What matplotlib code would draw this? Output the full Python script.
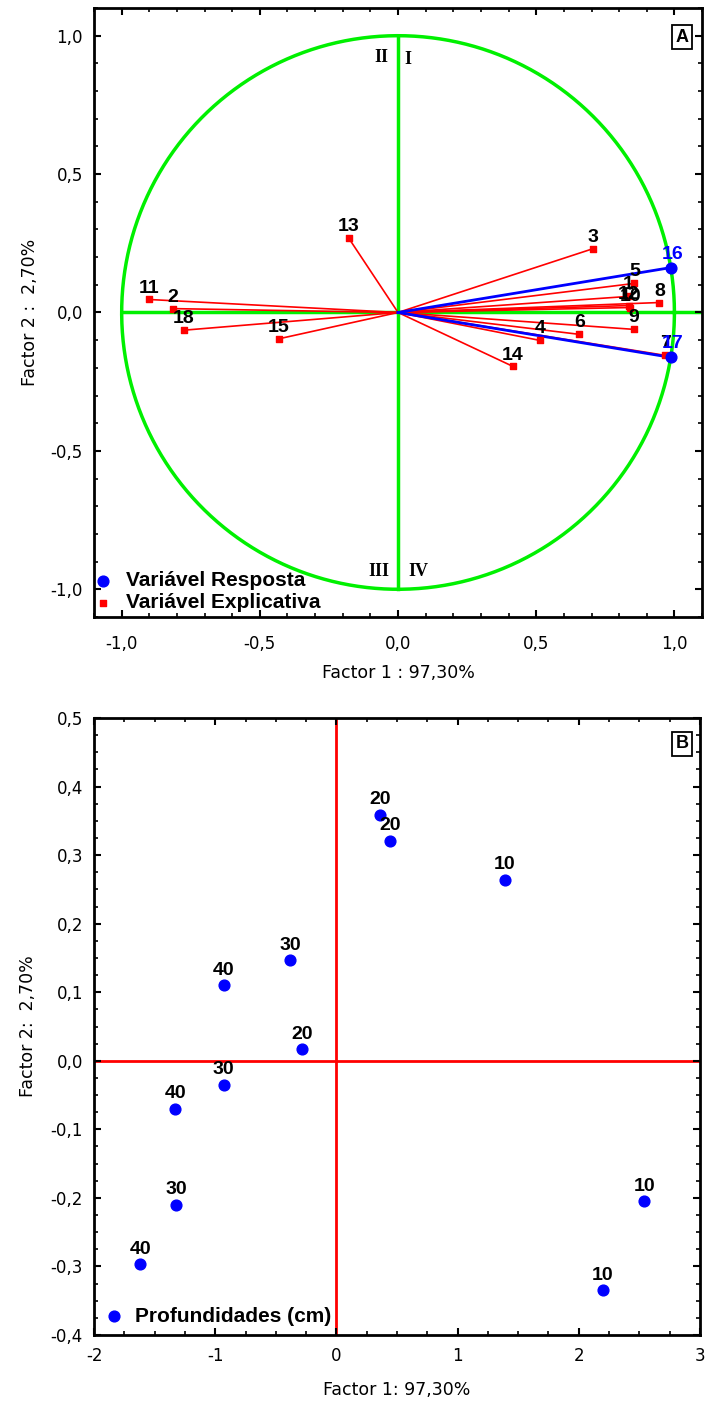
import numpy as np
import matplotlib
matplotlib.use('Agg')
import matplotlib.pyplot as plt
from matplotlib.ticker import MultipleLocator, FuncFormatter

plt.rcParams['font.family'] = ['DejaVu Sans']

# A: cargas das variaveis (circulo de correlacoes)
var_resp = ['16', '17']
resp_x = [0.986, 0.986]
resp_y = [0.162, -0.162]

var_expl = ['3', '5', '1', '12', '10', '8', '9', '6', '4', '7', '14', '13', '11', '2', '18', '15']
expl_x = [0.707, 0.855, 0.833, 0.834, 0.840, 0.946, 0.853, 0.656, 0.514, 0.967, 0.416, -0.178, -0.902, -0.815, -0.775, -0.431]
expl_y = [0.231, 0.105, 0.058, 0.025, 0.018, 0.036, -0.061, -0.079, -0.101, -0.155, -0.195, 0.268, 0.047, 0.014, -0.064, -0.095]

# B: escores das profundidades
prof = ['20', '20', '10', '30', '40', '20', '30', '40', '30', '40', '10', '10']
prof_x = [0.36, 0.44, 1.39, -0.38, -0.93, -0.28, -0.93, -1.33, -1.32, -1.62, 2.54, 2.20]
prof_y = [0.359, 0.321, 0.264, 0.147, 0.110, 0.017, -0.035, -0.070, -0.210, -0.297, -0.205, -0.335]

verde = '#00f000'
arial = ['Liberation Sans', 'DejaVu Sans']
comma = FuncFormatter(lambda v, p: ('%.1f' % v).replace('.', ','))


def estilo(ax, padx):
    for s in ax.spines.values():
        s.set_linewidth(2)
    ax.tick_params(which='both', direction='in', top=True, right=True, labelsize=12)
    ax.tick_params(axis='x', pad=padx)
    ax.tick_params(axis='y', pad=8)
    ax.tick_params(which='major', length=5, width=1.5)
    ax.tick_params(which='minor', length=3, width=1.2)


def caixa(ax, letra, x, y):
    ax.text(x, y, letra, transform=ax.transAxes, ha='center', va='center',
            fontsize=13, fontweight='bold', family=arial,
            bbox=dict(boxstyle='square,pad=0.2', fc='white', ec='black', lw=1.3))


def rotulos(ax, xl, yl, lx, ly):
    ax.set_xlabel(xl, fontsize=12.5)
    ax.set_ylabel(yl, fontsize=12.5)
    ax.xaxis.set_label_coords(0.5, lx)
    ax.yaxis.set_label_coords(ly, 0.5)
    ax.xaxis.label.set_va('center')
    ax.yaxis.label.set_va('center')


fig = plt.figure(figsize=(7.07, 14.06), dpi=100)

# ---------------- A ----------------
ax1 = fig.add_axes([0.133, 0.5612, 0.860, 0.4331])
t = np.linspace(0, 2 * np.pi, 400)
ax1.plot(np.cos(t), np.sin(t), color=verde, lw=2.5, zorder=1)
ax1.plot([-1, 1.1], [0, 0], color=verde, lw=2.5, zorder=1)
ax1.plot([0, 0], [-1, 1], color=verde, lw=2.5, zorder=1)

for x, y in zip(expl_x, expl_y):
    ax1.plot([0, x], [0, y], color='red', lw=1.2, zorder=2)
for x, y in zip(resp_x, resp_y):
    ax1.plot([0, x], [0, y], color='blue', lw=2, zorder=2)

ax1.scatter(expl_x, expl_y, marker='s', s=24, color='red', zorder=3, label='Variável Explicativa')
ax1.scatter(resp_x, resp_y, marker='o', s=60, color='blue', zorder=3, label='Variável Resposta')

for n, x, y in zip(var_expl, expl_x, expl_y):
    ax1.annotate(n, (x, y), xytext=(0, 5), textcoords='offset points', ha='center',
                 va='baseline', fontsize=14, fontweight='bold', family=arial, zorder=4)
for n, x, y in zip(var_resp, resp_x, resp_y):
    ax1.annotate(n, (x, y), xytext=(1.5, 6.5), textcoords='offset points', ha='center',
                 va='baseline', fontsize=14, fontweight='bold', family=arial,
                 color='blue', zorder=4)

for txt, x, y in [('II', -0.06, 0.92), ('I', 0.035, 0.915), ('III', -0.07, -0.935), ('IV', 0.075, -0.935)]:
    ax1.text(x, y, txt, ha='center', va='center', fontsize=13, fontweight='bold',
             family=['Liberation Serif', 'DejaVu Serif'])

ax1.set_xlim(-1.1, 1.1)
ax1.set_ylim(-1.1, 1.1)
ax1.xaxis.set_major_locator(MultipleLocator(0.5))
ax1.xaxis.set_minor_locator(MultipleLocator(0.1))
ax1.yaxis.set_major_locator(MultipleLocator(0.5))
ax1.yaxis.set_minor_locator(MultipleLocator(0.1))
ax1.xaxis.set_major_formatter(comma)
ax1.yaxis.set_major_formatter(comma)
estilo(ax1, 13)
rotulos(ax1, 'Factor 1 : 97,30%', 'Factor 2 :  2,70%', -0.092, -0.105)

h, l = ax1.get_legend_handles_labels()
ax1.legend(h[::-1], l[::-1], loc='lower left', frameon=False,
           prop={'weight': 'bold', 'size': 15, 'family': arial},
           handletextpad=0.6, labelspacing=0.15, borderaxespad=0.0, borderpad=0.1,
           handlelength=1.0, bbox_to_anchor=(-0.005, 0.004))
caixa(ax1, 'A', 0.967, 0.952)

# ---------------- B ----------------
ax2 = fig.add_axes([0.133, 0.0505, 0.857, 0.4388])
ax2.axhline(0, color='red', lw=2, zorder=1)
ax2.axvline(0, color='red', lw=2, zorder=1)
ax2.scatter(prof_x, prof_y, s=60, color='blue', zorder=3, label='Profundidades (cm)')
for n, x, y in zip(prof, prof_x, prof_y):
    ax2.annotate(n, (x, y), xytext=(0, 7.5), textcoords='offset points', ha='center',
                 va='baseline', fontsize=14, fontweight='bold', family=arial, zorder=4)

ax2.set_xlim(-2, 3)
ax2.set_ylim(-0.4, 0.5)
ax2.xaxis.set_major_locator(MultipleLocator(1))
ax2.xaxis.set_minor_locator(MultipleLocator(0.25))
ax2.yaxis.set_major_locator(MultipleLocator(0.1))
ax2.yaxis.set_minor_locator(MultipleLocator(0.025))
ax2.xaxis.set_major_formatter(FuncFormatter(lambda v, p: '%d' % round(v)))
ax2.yaxis.set_major_formatter(comma)
estilo(ax2, 9)
rotulos(ax2, 'Factor 1: 97,30%', 'Factor 2:  2,70%', -0.089, -0.109)
ax2.legend(loc='lower left', frameon=False, prop={'weight': 'bold', 'size': 15, 'family': arial},
           handletextpad=0.5, borderaxespad=0.0, borderpad=0.45, handlelength=1.0)
caixa(ax2, 'B', 0.970, 0.958)

fig.savefig('out.png', dpi=100)
